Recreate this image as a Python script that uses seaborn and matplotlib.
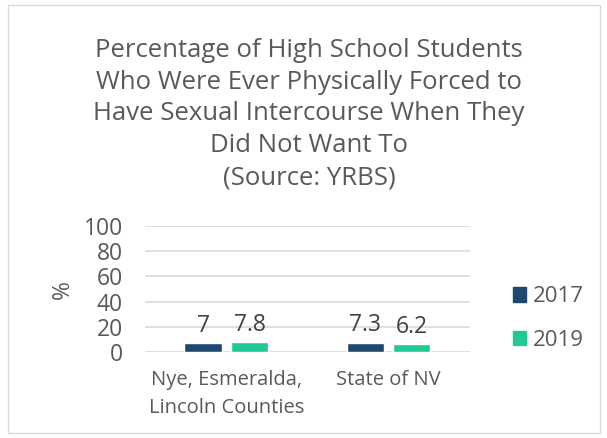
import matplotlib
matplotlib.use("Agg")
import matplotlib.pyplot as plt
from matplotlib.patches import Rectangle
import seaborn as sns
import pandas as pd

regions = ["Nye, Esmeralda,\nLincoln Counties", "State of NV"]
years = ["2017", "2019"]
values_2017 = [7, 7.3]
values_2019 = [7.8, 6.2]
y_ticks = [0, 20, 40, 60, 80, 100]

title = ("Percentage of High School Students\n"
         "Who Were Ever Physically Forced to\n"
         "Have Sexual Intercourse When They\n"
         "Did Not Want To\n"
         "(Source: YRBS)")

df = pd.DataFrame({
    "region": regions * 2,
    "year": [years[0]] * len(regions) + [years[1]] * len(regions),
    "value": values_2017 + values_2019,
})

sns.set_theme(style="white")
plt.rcParams["font.family"] = ["Open Sans", "DejaVu Sans"]
text_color = "#595959"
palette = {"2017": "#1F4770", "2019": "#20C895"}

fig = plt.figure(figsize=(6.07, 4.38), dpi=100)
ax = fig.add_axes([0.239, 0.196, 0.535, 0.288])

sns.barplot(data=df, x="region", y="value", hue="year", palette=palette,
            width=0.572, gap=0.2, saturation=1, ax=ax, legend=False)

for container in ax.containers:
    ax.bar_label(container, fmt="%g", padding=4, fontsize=16.5, color="#404040")

ax.set_ylim(0, 100)
ax.set_yticks(y_ticks)
ax.yaxis.grid(True, color="#d9d9d9", linewidth=1.2)
ax.set_axisbelow(True)
for s in ax.spines.values():
    s.set_visible(False)
ax.tick_params(axis="y", labelsize=16.5, labelcolor=text_color, pad=16, length=0)
ax.tick_params(axis="x", labelsize=14.5, labelcolor=text_color, pad=13, length=0)
for lbl in ax.get_xticklabels():
    lbl.set_linespacing(1.5)
ax.set_xlabel("")
ax.set_ylabel("%", fontsize=16.5, color=text_color, labelpad=6)

fig.text(0.509, 0.740, title, ha="center", va="center", fontsize=18.5,
         color=text_color, linespacing=1.36)

handles = [Rectangle((0, 0), 1, 1, color=palette[y]) for y in years]
fig.legend(handles, years, loc="center left", bbox_to_anchor=(0.812, 0.273),
           frameon=False, fontsize=16, handlelength=0.6, handleheight=0.6,
           handletextpad=0.3, labelspacing=1.0, labelcolor=text_color)

fig.patches.append(Rectangle((0.013, 0.012), 0.975, 0.976, transform=fig.transFigure,
                             fill=False, edgecolor="#d9d9d9", linewidth=1))

fig.savefig("out.png", dpi=100)
